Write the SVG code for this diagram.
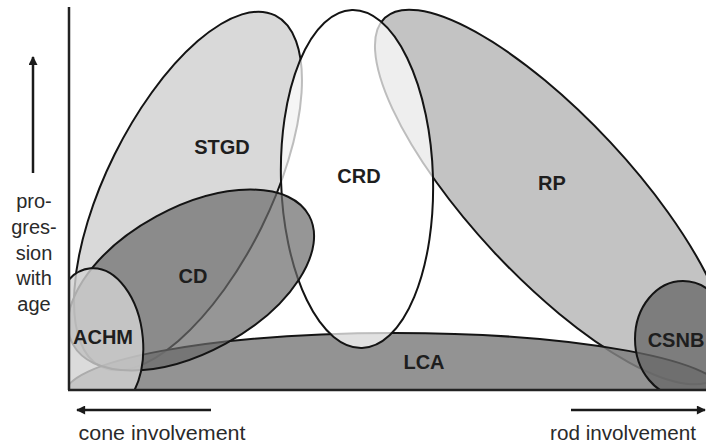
<svg xmlns="http://www.w3.org/2000/svg" width="706" height="444" viewBox="0 0 706 444">
  <defs>
    <clipPath id="plot">
      <rect x="69" y="0" width="637" height="390"/>
    </clipPath>
    <marker id="ah" viewBox="0 0 10 10" refX="9" refY="5" markerWidth="10" markerHeight="9" markerUnits="userSpaceOnUse" orient="auto">
      <path d="M0,0 L10,5 L0,10 z" fill="#1a1a1a"/>
    </marker>
    <style>
      .shape { stroke: #141414; stroke-width: 2; }
      .lbl { font-family: "Liberation Sans", Arial, sans-serif; font-weight: bold; font-size: 20px; fill: #1e1e1e; text-anchor: middle; }
      .ax { font-family: "Liberation Sans", Arial, sans-serif; font-size: 20px; fill: #2a2a2a; text-anchor: middle; }
      .axis { stroke: #222; stroke-width: 2.5; fill: none; }
      .arrow { stroke: #1a1a1a; stroke-width: 2.5; fill: none; }
    </style>
  </defs>
  <rect width="706" height="444" fill="#ffffff"/>

  <g id="STGD">
    <g clip-path="url(#plot)"><ellipse class="shape" cx="188" cy="191" rx="196" ry="82" transform="rotate(-63.6 188 191)" fill="#d9d9d9"/></g>
    <text class="lbl" x="222" y="154">STGD</text>
  </g>
  <g id="RP">
    <g clip-path="url(#plot)"><ellipse class="shape" cx="552" cy="197" rx="245" ry="80" transform="rotate(47 552 197)" fill="#c3c3c3"/></g>
    <text class="lbl" x="552" y="190">RP</text>
  </g>
  <g id="LCA">
    <g clip-path="url(#plot)"><ellipse class="shape" cx="395" cy="394" rx="330" ry="61" fill="#808080" fill-opacity="0.85"/></g>
    <text class="lbl" x="424" y="369">LCA</text>
  </g>
  <g id="CRD">
    <g clip-path="url(#plot)"><ellipse class="shape" cx="357" cy="179" rx="76" ry="169" transform="rotate(-1.7 357 179)" fill="#ffffff" fill-opacity="0.72"/></g>
    <text class="lbl" x="359" y="183">CRD</text>
  </g>
  <g id="CD">
    <g clip-path="url(#plot)"><ellipse class="shape" cx="191" cy="280" rx="134.5" ry="72.4" transform="rotate(-28.6 191 280)" fill="#6a6a6a" fill-opacity="0.7"/></g>
    <text class="lbl" x="193" y="283">CD</text>
  </g>
  <g id="ACHM">
    <g clip-path="url(#plot)"><ellipse class="shape" cx="97" cy="342" rx="46" ry="74" transform="rotate(-5 97 342)" fill="#d2d2d2" fill-opacity="0.8"/></g>
    <text class="lbl" x="103" y="344">ACHM</text>
  </g>
  <g id="CSNB">
    <g clip-path="url(#plot)"><ellipse class="shape" cx="683" cy="339" rx="48" ry="58" fill="#666666" fill-opacity="0.75"/></g>
    <text class="lbl" x="676" y="347">CSNB</text>
  </g>

  <g id="axes">
    <line class="axis" x1="69" y1="7" x2="69" y2="390"/>
    <line class="axis" x1="68" y1="390" x2="706" y2="390"/>
    <line class="arrow" x1="33" y1="173" x2="33" y2="57" marker-end="url(#ah)"/>
    <line class="arrow" x1="211" y1="410" x2="77" y2="410" marker-end="url(#ah)"/>
    <line class="arrow" x1="571" y1="410" x2="705" y2="410" marker-end="url(#ah)"/>
  </g>

  <g id="axis-labels">
    <text class="ax" x="34" y="208">pro-</text>
    <text class="ax" x="34" y="234">gres-</text>
    <text class="ax" x="34" y="259.5">sion</text>
    <text class="ax" x="34" y="285">with</text>
    <text class="ax" x="34" y="310.5">age</text>
    <text class="ax" x="162" y="440" textLength="167" lengthAdjust="spacingAndGlyphs">cone involvement</text>
    <text class="ax" x="623" y="440" textLength="146" lengthAdjust="spacingAndGlyphs">rod involvement</text>
  </g>
</svg>
